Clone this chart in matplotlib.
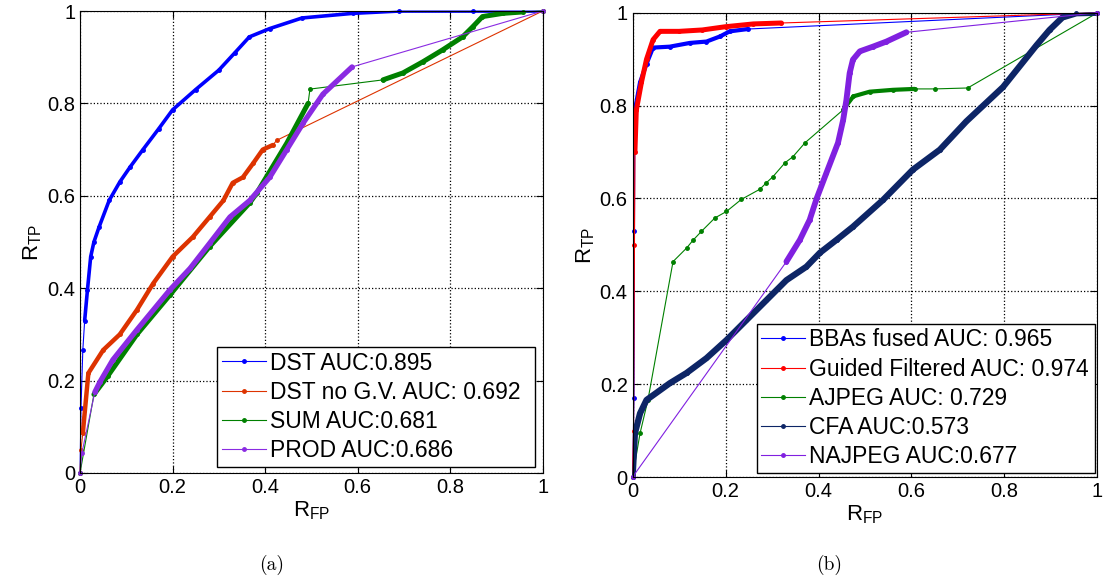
import matplotlib
matplotlib.use("Agg")
import matplotlib.pyplot as plt

plt.rcParams['font.family'] = ['Liberation Sans', 'DejaVu Sans']
plt.rcParams['mathtext.default'] = 'regular'

# (a) fusion methods
dst_x = [0, 0.002, 0.006, 0.01, 0.016, 0.023, 0.03, 0.041, 0.063, 0.086, 0.108, 0.136, 0.17, 0.2, 0.25, 0.3, 0.335, 0.366, 0.41, 0.48, 0.59, 0.69, 0.85, 1.0]
dst_y = [0, 0.14, 0.266, 0.33, 0.396, 0.468, 0.50, 0.532, 0.59, 0.63, 0.662, 0.70, 0.745, 0.786, 0.83, 0.872, 0.91, 0.944, 0.962, 0.985, 0.995, 1.0, 1.0, 1.0]

nogv_x = [0, 0.002, 0.006, 0.018, 0.05, 0.086, 0.123, 0.158, 0.2, 0.244, 0.28, 0.31, 0.33, 0.352, 0.374, 0.395, 0.417, 0.425, 1.0]
nogv_y = [0, 0.05, 0.086, 0.216, 0.266, 0.30, 0.353, 0.41, 0.468, 0.511, 0.554, 0.59, 0.628, 0.64, 0.67, 0.70, 0.71, 0.72, 1.0]

sum_x = [0, 0.03, 0.06, 0.123, 0.194, 0.28, 0.367, 0.382, 0.447, 0.493, 0.497, 0.655, 0.698, 0.741, 0.784, 0.827, 0.849, 0.87, 0.914, 0.957, 1.0]
sum_y = [0, 0.17, 0.21, 0.30, 0.385, 0.49, 0.585, 0.606, 0.714, 0.80, 0.831, 0.851, 0.866, 0.89, 0.916, 0.944, 0.966, 0.988, 0.995, 0.998, 1.0]

prod_x = [0, 0.004, 0.032, 0.043, 0.071, 0.123, 0.194, 0.238, 0.28, 0.324, 0.367, 0.41, 0.447, 0.482, 0.525, 0.588, 1.0]
prod_y = [0, 0.043, 0.175, 0.197, 0.245, 0.31, 0.396, 0.443, 0.497, 0.554, 0.59, 0.64, 0.70, 0.757, 0.82, 0.879, 1.0]

# (b) single detectors
bba_x = [0, 0.003, 0.004, 0.005, 0.016, 0.03, 0.044, 0.08, 0.123, 0.159, 0.188, 0.209, 0.248, 1.0]
bba_y = [0, 0.17, 0.53, 0.79, 0.85, 0.89, 0.925, 0.927, 0.935, 0.938, 0.949, 0.96, 0.965, 1.0]

gf_x = [0, 0.002, 0.004, 0.005, 0.008, 0.019, 0.03, 0.044, 0.059, 0.10, 0.15, 0.20, 0.26, 0.32, 1.0]
gf_y = [0, 0.1, 0.5, 0.70, 0.79, 0.85, 0.90, 0.942, 0.96, 0.96, 0.963, 0.97, 0.976, 0.978, 1.0]

ajpeg_x = [0, 0.016, 0.033, 0.087, 0.116, 0.13, 0.148, 0.177, 0.202, 0.234, 0.274, 0.288, 0.302, 0.328, 0.345, 0.371, 0.453, 0.475, 0.51, 0.56, 0.607, 0.65, 0.721, 1.0]
ajpeg_y = [0, 0.094, 0.166, 0.464, 0.493, 0.51, 0.529, 0.558, 0.572, 0.598, 0.62, 0.634, 0.647, 0.677, 0.69, 0.72, 0.791, 0.82, 0.83, 0.834, 0.836, 0.836, 0.838, 1.0]

cfa_x = [0, 0.005, 0.016, 0.03, 0.08, 0.116, 0.159, 0.202, 0.245, 0.288, 0.331, 0.374, 0.403, 0.439, 0.474, 0.539, 0.603, 0.661, 0.718, 0.797, 0.869, 0.897, 0.925, 0.955, 1.0]
cfa_y = [0, 0.094, 0.137, 0.166, 0.202, 0.224, 0.256, 0.295, 0.338, 0.381, 0.424, 0.453, 0.483, 0.511, 0.539, 0.597, 0.662, 0.705, 0.766, 0.84, 0.93, 0.963, 0.99, 0.999, 1.0]

najpeg_x = [0, 0.331, 0.36, 0.381, 0.396, 0.417, 0.442, 0.453, 0.46, 0.467, 0.474, 0.489, 0.517, 0.546, 0.589, 1.0]
najpeg_y = [0, 0.464, 0.511, 0.554, 0.6, 0.655, 0.72, 0.769, 0.812, 0.87, 0.899, 0.917, 0.927, 0.938, 0.958, 1.0]

ticks = [0, 0.2, 0.4, 0.6, 0.8, 1]
tick_labels = ['0', '0.2', '0.4', '0.6', '0.8', '1']

# (label, x, y, color, dense slices, thick width)
series_a = [
    ('DST AUC:0.895', dst_x, dst_y, '#0000ff', [(3, 24)], 2.6),
    ('DST no G.V. AUC: 0.692', nogv_x, nogv_y, '#dd3300', [(2, 17)], 3.2),
    ('SUM AUC:0.681', sum_x, sum_y, '#008000', [(1, 10), (11, 20)], 3.6),
    ('PROD AUC:0.686', prod_x, prod_y, '#8a2be2', [(2, 16)], 3.8),
]
series_b = [
    ('BBAs fused AUC: 0.965', bba_x, bba_y, '#0000ff', [(3, 13)], 3.0),
    ('Guided Filtered AUC: 0.974', gf_x, gf_y, '#ff0000', [(3, 14)], 3.6),
    ('AJPEG AUC: 0.729', ajpeg_x, ajpeg_y, '#008000', [(16, 21)], 3.0),
    ('CFA AUC:0.573', cfa_x, cfa_y, '#0d2566', [(0, 25)], 4.5),
    ('NAJPEG AUC:0.677', najpeg_x, najpeg_y, '#8020e0', [(1, 15)], 4.2),
]

fig = plt.figure(figsize=(11.04, 5.81), dpi=100)
ax1 = fig.add_axes([0.0725, 0.186, 0.419, 0.795])
ax2 = fig.add_axes([0.573, 0.179, 0.421, 0.799])


def draw(ax, series, legend_box):
    for label, xs, ys, c, dense, lw in series:
        ax.plot(xs, ys, '.-', color=c, lw=0.8, ms=5, label=label, clip_on=False)
        for a, b in dense:
            ax.plot(xs[a:b], ys[a:b], '-', color=c, lw=lw, solid_capstyle='round')
    ax.set_xlim(0, 1)
    ax.set_ylim(0, 1)
    ax.set_xticks(ticks)
    ax.set_yticks(ticks)
    ax.set_xticklabels(tick_labels)
    ax.set_yticklabels(tick_labels)
    ax.tick_params(direction='in', top=True, right=True, labelsize=14.5, length=5)
    ax.grid(True, ls=':', color='k', lw=0.9)
    ax.set_xlabel('$R_{FP}$', fontsize=16, labelpad=2)
    ax.set_ylabel('$R_{TP}$', fontsize=16, labelpad=2)
    leg = ax.legend(loc='lower left', bbox_to_anchor=legend_box, mode='expand',
                    fontsize=16.5, handlelength=1.9, borderaxespad=0, fancybox=False,
                    framealpha=1, edgecolor='k', labelspacing=0.27, handletextpad=0.2,
                    borderpad=0.2)
    leg.get_frame().set_linewidth(1.0)


draw(ax1, series_a, (0.297, 0.0136, 0.687, 0.262))
draw(ax2, series_b, (0.267, 0.009, 0.727, 0.324))

fig.text(272 / 1104, 1 - 565 / 581, '(a)', fontfamily='cmr10', fontsize=14, ha='center', va='center')
fig.text(829 / 1104, 1 - 565 / 581, '(b)', fontfamily='cmr10', fontsize=14, ha='center', va='center')

fig.savefig('out.png', dpi=100)
